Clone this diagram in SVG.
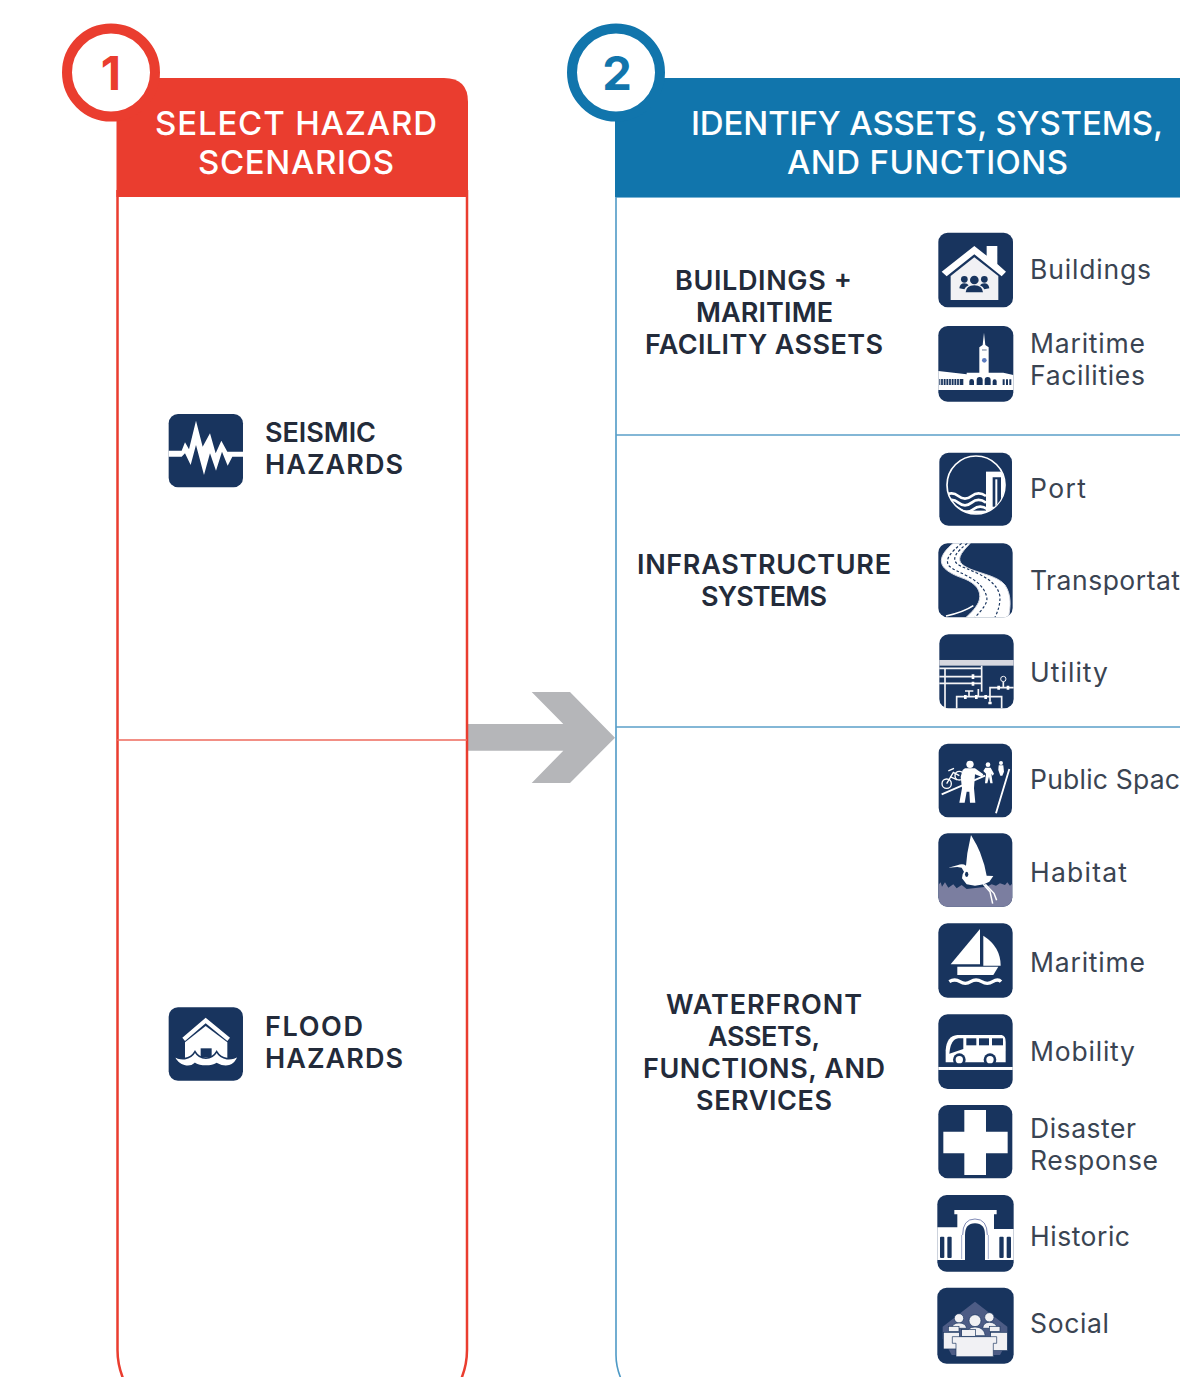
<svg xmlns="http://www.w3.org/2000/svg" width="1180" height="1377" viewBox="0 0 1180 1377">
<style>
text{font-family:"Inter","Liberation Sans",sans-serif}
.h{font-size:33px;font-weight:500;fill:#fff;text-anchor:start}
.b{font-size:27px;font-weight:600;fill:#232b3a;transform:translateY(.6px)}
.l{font-size:26.500px;font-weight:400;fill:#3a4452}
.n{fill:#18345e}
.w{fill:#fff}
.o{fill:#f1f1f4}
.p{fill:none;stroke:#f4f4f6;stroke-width:5}
</style>
<defs>
<clipPath id="portc"><circle cx="168" cy="795" r="86"/></clipPath>
<clipPath id="roadc"><rect x="55" y="25" width="223" height="222" rx="28"/></clipPath>
<clipPath id="habc"><rect x="55" y="25" width="222" height="220" rx="28"/></clipPath>
</defs>
<rect width="1180" height="1377" fill="#fff"/>

<g id="connectors">
<polygon points="467,724 563.3,724 531.7,692 570,692 615,737.7 570,783 531.7,783 563.3,750.7 467,750.7" fill="#b5b6b9"/>
</g>

<g id="step1">
<path d="M117.5,190V1350Q117.5,1368 126,1385M467,190V1350Q467,1368 458.500,1385" fill="none" stroke="#ea3d2f" stroke-width="2.500"/>
<line x1="117" y1="740" x2="467" y2="740" stroke="#ee6a5c" stroke-width="1.500"/>
<path d="M116.5,197V78H444Q468,78 468,102V197Z" fill="#ea3d2f"/>
<circle cx="111" cy="72.500" r="44" fill="#fff" stroke="#ea3d2f" stroke-width="10"/>
<text x="111" y="90" font-size="47" font-weight="700" fill="#ea3d2f" text-anchor="middle">1</text>
<text class="h" x="155" y="135" textLength="282">SELECT HAZARD</text>
<text class="h" x="198" y="174" textLength="196">SCENARIOS</text>
</g>

<g id="step2">
<path d="M1180,197H616V1355Q616,1370 624,1385" fill="none" stroke="#4f9ac6" stroke-width="1.600"/>
<line x1="616" y1="435" x2="1180" y2="435" stroke="#5a9fc9" stroke-width="1.600"/>
<line x1="616" y1="727" x2="1180" y2="727" stroke="#5a9fc9" stroke-width="1.600"/>
<rect x="615" y="78" width="565" height="119" fill="#1175ac"/>
<circle cx="616" cy="72.500" r="44" fill="#fff" stroke="#1175ac" stroke-width="10"/>
<text x="617" y="90" font-size="47" font-weight="700" fill="#1175ac" text-anchor="middle">2</text>
<text class="h" x="691" y="135" textLength="472">IDENTIFY ASSETS, SYSTEMS,</text>
<text class="h" x="787" y="174" textLength="281">AND FUNCTIONS</text>
</g>

<g id="seismic">
<g transform="translate(150,400) scale(.3333)">
<rect class="n" x="56" y="42" width="223" height="220" rx="28"/>
<polygon class="w" points="56,152 95,152 105,127 117,148 138,62 158,140 180,100 197,160 214,122 232,155 279,155 279,170 247,170 233,197 216,155 198,212 180,160 162,225 138,135 122,195 105,160 95,170 56,170"/>
</g>
<text class="b" x="265" y="441" textLength="111">SEISMIC</text>
<text class="b" x="265" y="473" textLength="138">HAZARDS</text>
</g>

<g id="flood">
<g transform="translate(150,995) scale(.3333)">
<rect class="n" x="56" y="37" width="223" height="220" rx="28"/>
<polygon class="w" points="97,128 167,68 240,128 232,138 167,85 105,138"/>
<path class="w" d="M105,142L167,93L232,142V200H105Z"/>
<rect class="n" x="152" y="160" width="33" height="26"/>
<path class="w" stroke="#18345e" stroke-width="5" d="M70,181C90,196 120,196 135,170C150,196 185,196 200,170C215,196 245,196 266,181C255,218 225,220 200,206C185,216 150,216 135,206C120,220 85,218 70,181Z"/>
</g>
<text class="b" x="265" y="1035" textLength="98">FLOOD</text>
<text class="b" x="265" y="1067" textLength="138">HAZARDS</text>
</g>

<g id="category-buildings">
<text class="b" x="675" y="289" textLength="177">BUILDINGS +</text>
<text class="b" x="696" y="321" textLength="137">MARITIME</text>
<text class="b" x="645" y="353" textLength="238">FACILITY ASSETS</text>
</g>
<g id="category-infrastructure">
<text class="b" x="637" y="573" textLength="254">INFRASTRUCTURE</text>
<text class="b" x="701" y="605" textLength="126">SYSTEMS</text>
</g>
<g id="category-waterfront">
<text class="b" x="666" y="1013" textLength="196">WATERFRONT</text>
<text class="b" x="708" y="1045" textLength="112">ASSETS,</text>
<text class="b" x="643" y="1077" textLength="242">FUNCTIONS, AND</text>
<text class="b" x="696" y="1109" textLength="136">SERVICES</text>
</g>

<g id="buildings">
<g transform="translate(920,220) scale(.3333)">
<rect class="n" x="55" y="38" width="224" height="224" rx="28"/>
<path class="o" d="M92,168L163,112L235,168V240H92Z"/>
<polygon class="w" points="65,155 163,78 200,107 200,78 232,78 232,132 258,155 245,169 163,103 80,169"/>
<g class="n">
<circle cx="133" cy="178" r="10"/><circle cx="193" cy="178" r="10"/><circle cx="163" cy="180" r="13"/>
<path d="M118,205Q120,190 133,190Q142,190 146,196Q136,200 133,208Z"/>
<path d="M208,205Q206,190 193,190Q184,190 180,196Q190,200 193,208Z"/>
<path d="M137,217Q139,196 163,196Q187,196 189,217Z"/>
</g>
</g>
<text class="l" x="1030" y="279" textLength="121">Buildings</text>
</g>

<g id="maritime-facilities">
<g transform="translate(920,220) scale(.3333)">
<rect class="n" x="55" y="318" width="225" height="227" rx="28"/>
<path class="w" d="M55,453L140,463V458H178V382L188,375L192,338L196,375L206,382V458H250L280,465V510H55Z"/>
<circle cx="193" cy="421" r="7" fill="#5c7cc0"/>
<rect class="n" x="186" y="389" width="14" height="2"/>
<g class="n">
<path d="M58,477H130V495H58Z"/>
<path d="M148,484a7,7 0 0 1 14,0V495H148ZM170,480a9,9 0 0 1 18,0V495H170ZM194,480a9,9 0 0 1 18,0V495H194ZM218,484a6,6 0 0 1 12,0V495H218ZM248,478h6v17h-6ZM258,478h6v17h-6ZM268,478h6v17h-6Z"/>
</g>
<path d="M62,477V495M70,477V495M78,477V495M86,477V495M94,477V495M102,477V495M110,477V495M118,477V495" stroke="#fff" stroke-width="2.500"/>
</g>
<text class="l" x="1030" y="353" textLength="115">Maritime</text>
<text class="l" x="1030" y="385" textLength="115">Facilities</text>
</g>

<g id="port">
<g transform="translate(920,220) scale(.3333)">
<rect class="n" x="58" y="698" width="218" height="219" rx="28"/>
<circle cx="168" cy="795" r="87" fill="none" stroke="#fff" stroke-width="5"/>
<g clip-path="url(#portc)">
<rect class="w" x="198" y="755" width="70" height="140"/>
<path class="n" d="M218,772H243V860H218Z"/>
<rect class="w" x="226" y="778" width="6" height="82"/>
<rect class="w" x="80" y="872" width="120" height="30"/>
<path d="M75,828Q95,812 115,828T155,828T198,828M75,848Q95,832 115,848T155,848T198,848M80,868Q100,852 120,868T160,868T203,868" fill="none" stroke="#fff" stroke-width="8"/>
</g>
</g>
<text class="l" x="1030" y="498" textLength="56">Port</text>
</g>

<g id="transportation">
<g transform="translate(920,535) scale(.3333)">
<rect class="n" x="55" y="25" width="223" height="222" rx="28"/>
<g clip-path="url(#roadc)">
<path fill="#fff" stroke="#d8dbe4" stroke-width="3" d="M105,20C75,45 60,65 65,85C70,105 100,120 135,132C165,145 185,165 178,195C172,215 155,232 135,250H265C272,215 275,180 255,150C235,125 190,118 150,102C125,90 110,80 125,55C135,40 145,32 155,20Z"/>
<path d="M125,25C95,50 75,70 85,90C105,115 185,125 200,185C205,205 185,225 165,247" fill="none" stroke="#18345e" stroke-width="3.500" stroke-dasharray="8 6"/>
<path d="M142,25C110,50 95,70 110,85C130,105 230,120 240,185C240,210 235,225 225,247" fill="none" stroke="#18345e" stroke-width="3.500" stroke-dasharray="8 6"/>
<path d="M78,243Q130,232 160,212" fill="none" stroke="#fff" stroke-width="5"/>
</g>
</g>
<text class="l" x="1030" y="590" textLength="150">Transportat</text>
</g>

<g id="utility">
<g transform="translate(920,535) scale(.3333)">
<rect class="n" x="58" y="298" width="223" height="222" rx="28"/>
<rect x="58" y="375" width="223" height="17" fill="#d6d7df"/>
<path class="p" d="M75,398V520M58,400H185M58,425H185M58,445H185M185,392V470M110,520V485H245V520M210,500V458H281M175,485V462M147,485V468M135,468H160M250,458V440"/>
<circle cx="250" cy="432" r="8" fill="none" stroke="#f4f4f6" stroke-width="3"/>
<path d="M155,418h8v14h-8ZM155,440h8v12h-8ZM232,452h8v12h-8ZM260,452h8v12h-8ZM132,480h8v12h-8ZM165,480h8v12h-8ZM193,480h8v12h-8ZM205,500h10v8h-10Z" class="w"/>
</g>
<text class="l" x="1030" y="682" textLength="78">Utility</text>
</g>

<g id="public-space">
<g transform="translate(920,535) scale(.3333)">
<rect class="n" x="56" y="626" width="220" height="221" rx="28"/>
<path d="M65,778L195,722M228,835L268,702" stroke="#fff" stroke-width="5.500" fill="none"/>
<circle cx="80" cy="746" r="14" fill="none" stroke="#fff" stroke-width="4"/>
<circle cx="118" cy="722" r="13" fill="none" stroke="#fff" stroke-width="4"/>
<path d="M80,746L100,712L118,722M90,725L112,735M85,708L102,700" fill="none" stroke="#fff" stroke-width="4"/>
<circle class="w" cx="150" cy="688" r="11"/>
<path class="w" d="M135,700H165L190,718L186,726L165,718L162,760L166,803H150L148,770L140,770L134,803H118L126,760L122,725L128,705Z"/>
<circle class="w" cx="204" cy="689" r="7"/>
<path class="w" d="M196,698H212L222,716L218,722L214,716L218,745H211L207,725L202,745H195L198,716L190,708Z"/>
<circle class="w" cx="243" cy="684" r="6"/>
<path class="w" d="M236,691H250L252,710L247,722H241L235,705Z"/>
</g>
<text class="l" x="1030" y="789" textLength="150">Public Spac</text>
</g>

<g id="habitat">
<g transform="translate(920,825) scale(.3333)">
<rect class="n" x="55" y="25" width="222" height="220" rx="28"/>
<g clip-path="url(#habc)">
<path fill="#7b7ea0" d="M55,180L62,172L66,185L75,172L85,188L100,178L110,190L125,180L140,192L200,185L215,178L228,182L240,175L255,180L262,172L270,182L278,175V250H55Z"/>
</g>
<path class="w" d="M85,128L112,121Q128,114 138,122L142,85L153,30L170,60L180,82L193,120L200,152L220,153L208,170L192,178L165,182L140,178L126,160L128,148L132,140L125,128L112,126Z"/>
<ellipse class="n" cx="140" cy="148" rx="5" ry="8"/>
<path d="M190,178L210,200L218,236M196,178L222,205L230,226" fill="none" stroke="#fff" stroke-width="4.500"/>
</g>
<text class="l" x="1030" y="882" textLength="97">Habitat</text>
</g>

<g id="maritime">
<g transform="translate(920,825) scale(.3333)">
<rect class="n" x="55" y="295" width="223" height="223" rx="28"/>
<polygon class="w" points="180,312 180,418 92,418"/>
<path class="w" d="M190,332Q242,365 242,422H190Z"/>
<polygon class="w" points="112,425 235,425 220,450 112,450"/>
<path d="M88,470Q104,460 120,470T152,470T185,470T218,470T243,470" fill="none" stroke="#fff" stroke-width="10"/>
</g>
<text class="l" x="1030" y="972" textLength="115">Maritime</text>
</g>

<g id="mobility">
<g transform="translate(920,825) scale(.3333)">
<rect class="n" x="55" y="568" width="223" height="224" rx="28"/>
<rect class="w" x="55" y="726" width="223" height="9"/>
<path class="w" d="M77,712V676Q80,632 112,630H245Q257,632 257,650V712Z"/>
<path class="n" d="M88,686Q92,642 115,640H130V672Z"/>
<rect class="n" x="139" y="640" width="30" height="21"/>
<rect class="n" x="177" y="640" width="30" height="21"/>
<rect class="n" x="216" y="640" width="33" height="21"/>
<circle class="n" cx="118" cy="704" r="19"/><circle class="w" cx="118" cy="704" r="11"/>
<circle class="n" cx="210" cy="704" r="19"/><circle class="w" cx="210" cy="704" r="11"/>
</g>
<text class="l" x="1030" y="1061" textLength="105">Mobility</text>
</g>

<g id="disaster-response">
<g transform="translate(920,1095) scale(.3333)">
<rect class="n" x="55" y="30" width="222" height="220" rx="28"/>
<path class="w" d="M133,45H198V110H263V175H198V240H133V175H70V110H133Z"/>
</g>
<text class="l" x="1030" y="1138" textLength="106">Disaster</text>
<text class="l" x="1030" y="1170" textLength="128">Response</text>
</g>

<g id="historic">
<g transform="translate(920,1095) scale(.3333)">
<rect class="n" x="52" y="300" width="229" height="230" rx="28"/>
<path class="w" d="M103,345H230V358H222V402H281V495H52V397H112V358H103Z"/>
<path class="n" d="M135,495V420Q135,385 165,385Q195,385 195,420V495Z"/>
<path d="M128,420Q128,372 165,372Q202,372 202,420" fill="none" stroke="#7f8ab5" stroke-width="3"/>
<path d="M125,420V492M205,420V492" stroke="#8f9ac0" stroke-width="2.500"/>
<g class="n">
<rect x="60" y="425" width="13" height="64" rx="3"/><rect x="82" y="425" width="13" height="64" rx="3"/>
<rect x="238" y="425" width="13" height="64" rx="3"/><rect x="260" y="425" width="13" height="64" rx="3"/>
</g>
</g>
<text class="l" x="1030" y="1246" textLength="100">Historic</text>
</g>

<g id="social">
<g transform="translate(920,1095) scale(.3333)">
<rect class="n" x="52" y="578" width="229" height="228" rx="28"/>
<path d="M68,695L165,620L262,695V740L240,780H95L68,730Z" fill="#4d5c85"/>
<g class="o" stroke="#18345e" stroke-width="2">
<circle cx="117" cy="670" r="14"/><circle cx="208" cy="667" r="14"/>
<path d="M95,700Q98,684 117,684Q137,684 140,700Z"/><path d="M188,700Q190,682 208,682Q228,682 232,700Z"/>
<rect x="85" y="694" width="32" height="16"/><rect x="208" y="694" width="32" height="16"/>
<rect x="70" y="712" width="48" height="50"/><rect x="212" y="712" width="50" height="55"/>
<circle cx="165" cy="677" r="18"/>
<path d="M138,722Q140,696 165,696Q192,696 196,722Z"/>
<rect x="125" y="704" width="42" height="20"/>
<path d="M97,725H230V745H220V785H108V745H97Z"/>
</g>
</g>
<text class="l" x="1030" y="1333" textLength="79">Social</text>
</g>
</svg>
